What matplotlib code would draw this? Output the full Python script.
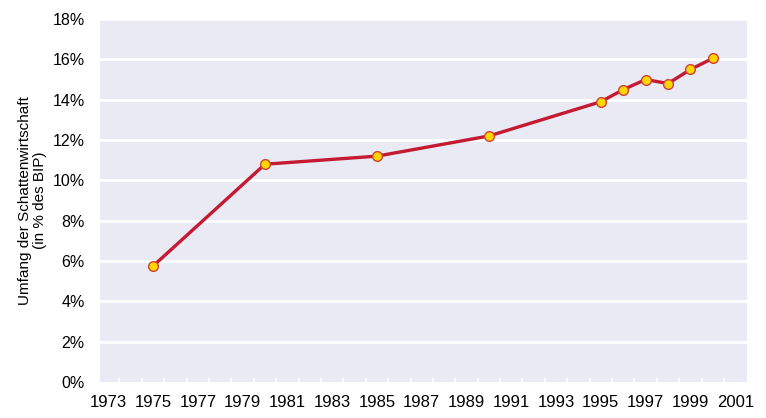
import numpy as np
import matplotlib.pyplot as plt
from matplotlib.ticker import FixedLocator

plt.rcParams['font.family'] = ['Liberation Sans', 'DejaVu Sans']

# Umfang der Schattenwirtschaft in % des BIP
jahre = [1975, 1980, 1985, 1990, 1995, 1996, 1997, 1998, 1999, 2000]
anteil = [5.75, 10.8, 11.2, 12.2, 13.9, 14.5, 15.0, 14.8, 15.5, 16.05]

x_labels = list(range(1973, 2002, 2))
y_ticks = list(range(0, 19, 2))

fig = plt.figure(figsize=(7.66, 4.18), dpi=100)
ax = fig.add_axes([0.1305, 0.0861, 0.8445, 0.8684])
ax.set_facecolor('#E9EAF4')

ax.set_xlim(1972.63, 2001.52)
ax.set_ylim(0, 18)

ax.set_yticks(y_ticks)
ax.set_yticklabels([f'{v}%' for v in y_ticks])
for v in y_ticks[1:]:
    ax.axhline(v, color='white', lw=2.0, zorder=1)

ax.set_xticks(x_labels)
ax.set_xticklabels([str(j) for j in x_labels])
ax.xaxis.set_minor_locator(FixedLocator(np.arange(1973.5, 2001, 1.0)))
ax.tick_params(axis='x', which='major', length=0, pad=9, labelsize=12)
ax.tick_params(axis='x', which='minor', direction='in', length=3, width=1.2, color='white')
ax.tick_params(axis='y', length=0, pad=11, labelsize=11.5)

for s in ax.spines.values():
    s.set_visible(False)

ax.plot(jahre, anteil, color='#C41A32', lw=2.4, marker='o', markersize=7,
        markerfacecolor='#FFD600', markeredgecolor='#D2403A', markeredgewidth=1.0, zorder=3)

ax.set_ylabel('Umfang der Schattenwirtschaft\n(in % des BIP)', fontsize=11, labelpad=4,
              linespacing=1.1)

fig.savefig('out.png', dpi=100)
